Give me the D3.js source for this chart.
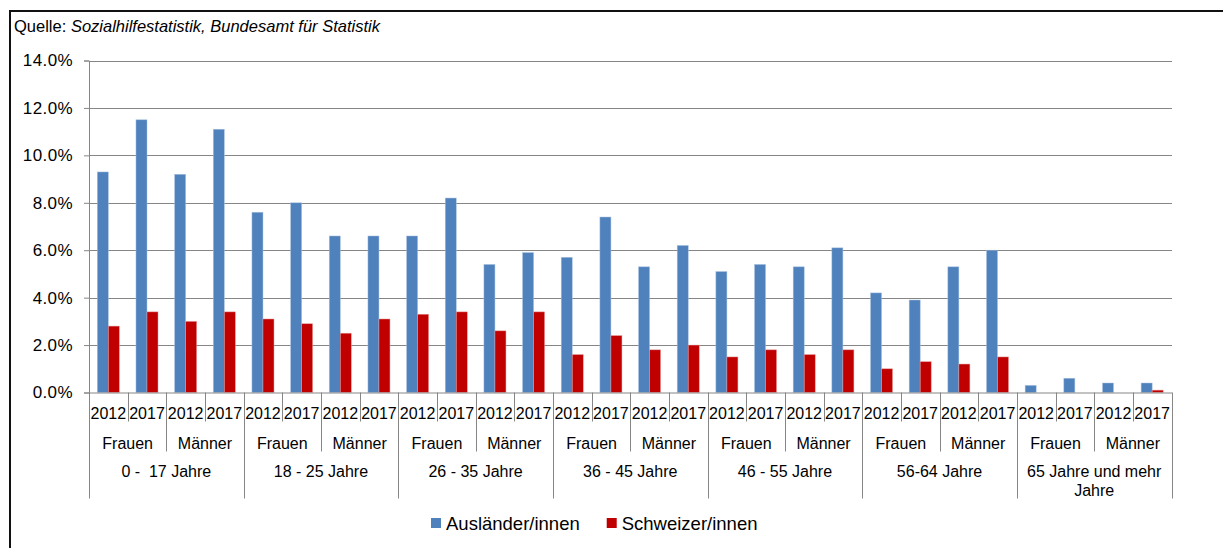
<!DOCTYPE html>
<html>
<head>
<meta charset="utf-8">
<script src="https://cdn.jsdelivr.net/npm/d3@7"></script>
<style>
  html, body { margin: 0; padding: 0; background: #fff; }
  svg { display: block; font-family: "Liberation Sans", Arial, sans-serif; }
</style>
</head>
<body>
<svg id="chart" width="1223" height="548"></svg>
<script>
// Sozialhilfequote nach Altersgruppe, Geschlecht und Jahr
const ageGroups = ["0 -  17 Jahre", "18 - 25 Jahre", "26 - 35 Jahre", "36 - 45 Jahre",
                   "46 - 55 Jahre", "56-64 Jahre", "65 Jahre und mehr Jahre"];
const genders = ["Frauen", "Männer"];
const years = ["2012", "2017"];
const seriesNames = ["Ausländer/innen", "Schweizer/innen"];
const seriesColors = ["#4F81BD", "#C00000"];
const yTicks = [0, 2, 4, 6, 8, 10, 12, 14];

// values in percent, ordered age group → gender → year
const auslaender = [9.3, 11.5, 9.2, 11.1,  7.6, 8.0, 6.6, 6.6,  6.6, 8.2, 5.4, 5.9,
                    5.7, 7.4, 5.3, 6.2,   5.1, 5.4, 5.3, 6.1,  4.2, 3.9, 5.3, 6.0,
                    0.3, 0.6, 0.4, 0.4];
const schweizer  = [2.8, 3.4, 3.0, 3.4,   3.1, 2.9, 2.5, 3.1,  3.3, 3.4, 2.6, 3.4,
                    1.6, 2.4, 1.8, 2.0,   1.5, 1.8, 1.6, 1.8,  1.0, 1.3, 1.2, 1.5,
                    0.0, 0.0, 0.0, 0.1];

// flat category list
const categories = [];
ageGroups.forEach((a, ai) => genders.forEach((g, gi) => years.forEach((y, yi) => {
  categories.push({ key: `${ai}|${gi}|${yi}`, age: a, gender: g, year: y, ai, gi, yi });
})));
const seriesValues = [auslaender, schweizer];

const svg = d3.select("#chart");
const plot = { left: 89, right: 1171.5, top: 60.5, bottom: 392.5 };
const gridColor = "#868686";
const textColor = "#000";

// outer frame (left and top edge)
svg.append("path")
  .attr("d", "M10,548 L10,11 L1223,11")
  .attr("fill", "none").attr("stroke", "#111").attr("stroke-width", 2);

// source line
const src = svg.append("text").attr("x", 14).attr("y", 32)
  .attr("font-size", 16.5).attr("fill", textColor);
src.append("tspan").text("Quelle: ");
src.append("tspan").attr("font-style", "italic").text("Sozialhilfestatistik, Bundesamt für Statistik");

const x = d3.scaleBand().domain(categories.map(d => d.key))
  .range([plot.left, plot.right]).paddingInner(0).paddingOuter(0);
const groupW = x.bandwidth() * 0.57;
const xs = d3.scaleBand().domain(seriesNames).range([0, groupW]);
const y = d3.scaleLinear().domain([0, 14]).range([plot.bottom, plot.top]);

// gridlines
svg.append("g").selectAll("line").data(yTicks.filter(t => t > 0)).join("line")
  .attr("x1", plot.left).attr("x2", plot.right + 0.5)
  .attr("y1", d => Math.round(y(d)) + 0.5).attr("y2", d => Math.round(y(d)) + 0.5)
  .attr("stroke", gridColor).attr("stroke-width", 1);

// y axis
const yAxis = d3.axisLeft(y).tickValues(yTicks).tickSize(5).tickPadding(11)
  .tickFormat(d => d.toFixed(1) + "%");
const yg = svg.append("g").attr("transform", `translate(${plot.left},0)`).call(yAxis);
yg.select(".domain").attr("stroke", gridColor);
yg.selectAll(".tick line").attr("stroke", gridColor);
yg.selectAll(".tick text").attr("font-size", 17).attr("fill", textColor)
  .attr("letter-spacing", 0.4)
  .attr("font-family", "Liberation Sans, Arial, sans-serif");

// bars
const groups = svg.append("g").selectAll("g").data(categories).join("g")
  .attr("transform", d => `translate(${x(d.key) + (x.bandwidth() - groupW) / 2},0)`);
seriesNames.forEach((s, si) => {
  groups.append("rect")
    .attr("x", xs(s))
    .attr("width", xs.bandwidth())
    .attr("y", (d, i) => y(seriesValues[si][i]))
    .attr("height", (d, i) => y(0) - y(seriesValues[si][i]))
    .attr("fill", seriesColors[si])
    .attr("stroke", si === 0 ? "#a7c0e0" : "#e6a0a0")
    .attr("stroke-width", 0.6)
    .attr("stroke-opacity", 0.8);
});

// category axis (three levels)
const xAxis = d3.axisBottom(x).tickSize(0).tickFormat(k => categories.find(c => c.key === k).year);
const xg = svg.append("g").attr("transform", `translate(0,${plot.bottom})`).call(xAxis);
xg.select(".domain").attr("stroke", gridColor).attr("d", `M${plot.left},0.5H${plot.right + 0.5}`);
xg.selectAll(".tick text").attr("font-size", 16).attr("fill", textColor)
  .attr("y", 0).attr("dy", "1.65em")
  .attr("font-family", "Liberation Sans, Arial, sans-serif");

// separators between categories; longer where gender / age group changes
const boundaries = d3.range(categories.length + 1);
const sepDepth = i => {
  if (i === 0 || i === categories.length || i % 4 === 0) return 106;
  if (i % 2 === 0) return 59;
  return 29;
};
svg.append("g").selectAll("line").data(boundaries).join("line")
  .attr("x1", i => Math.round(plot.left + i * x.step()) + 0.5)
  .attr("x2", i => Math.round(plot.left + i * x.step()) + 0.5)
  .attr("y1", plot.bottom).attr("y2", i => plot.bottom + sepDepth(i))
  .attr("stroke", gridColor).attr("stroke-width", 1);

// gender labels
const genderCells = [];
ageGroups.forEach((a, ai) => genders.forEach((g, gi) => genderCells.push({ g, idx: ai * 2 + gi })));
svg.append("g").selectAll("text").data(genderCells).join("text")
  .attr("x", d => plot.left + (d.idx * 2 + 1) * x.step())
  .attr("y", 449)
  .attr("text-anchor", "middle").attr("font-size", 16).attr("fill", textColor)
  .text(d => d.g);

// age-group labels, wrapped to their cell width
const ageText = svg.append("g").selectAll("text").data(ageGroups).join("text")
  .attr("x", (d, i) => plot.left + (i * 4 + 2) * x.step())
  .attr("y", 477)
  .attr("text-anchor", "middle").attr("font-size", 16).attr("fill", textColor)
  .style("white-space", "pre");
ageText.each(function(label) {
  const el = d3.select(this);
  const maxW = x.step() * 4 - 8;
  const words = label.split(" ");
  let line = [];
  let tspan = el.append("tspan").attr("x", el.attr("x")).attr("dy", 0);
  words.forEach(w => {
    line.push(w);
    tspan.text(line.join(" "));
    if (tspan.node().getComputedTextLength() > maxW && line.length > 1) {
      line.pop();
      tspan.text(line.join(" "));
      line = [w];
      tspan = el.append("tspan").attr("x", el.attr("x")).attr("dy", "1.2em").text(w);
    }
  });
});

// legend: swatch + label, items laid out left to right
const legend = svg.append("g").attr("transform", "translate(431,518)");
let lx = 0;
seriesNames.forEach((name, i) => {
  const g = legend.append("g").attr("transform", `translate(${lx},0)`);
  g.append("rect").attr("width", 10).attr("height", 10).attr("fill", seriesColors[i]);
  const t = g.append("text").attr("x", 15).attr("y", 11.5).attr("font-size", 18.5)
    .attr("fill", textColor).text(name);
  lx += 15 + t.node().getComputedTextLength() + 27;
});
</script>
</body>
</html>
